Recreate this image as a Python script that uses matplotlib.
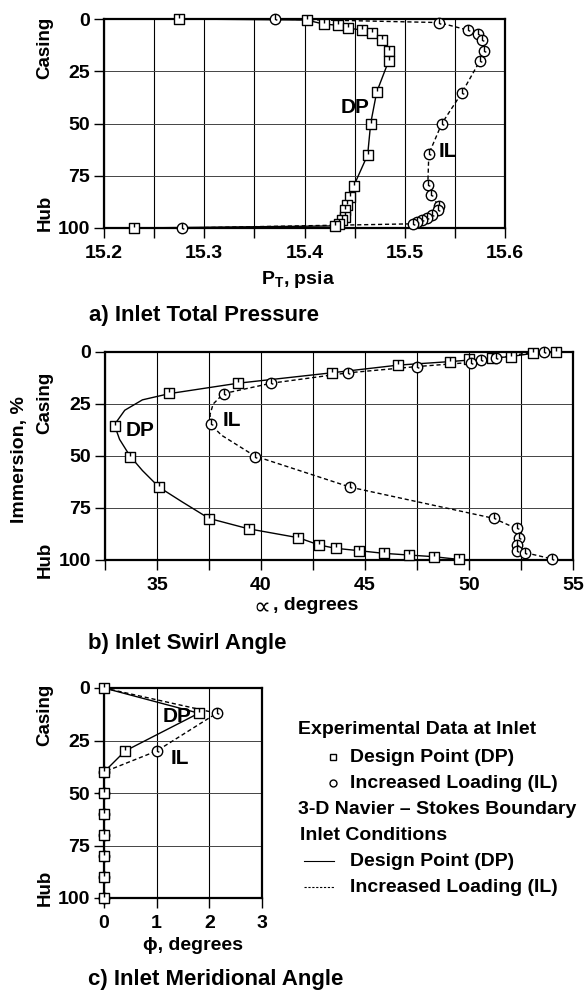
import numpy as np
import matplotlib
matplotlib.use("Agg")
import matplotlib.pyplot as plt
from matplotlib.path import Path
from matplotlib.lines import Line2D
from matplotlib.ticker import MultipleLocator, FormatStrFormatter

plt.rcParams['font.family'] = ['Liberation Sans', 'DejaVu Sans']
plt.rcParams['font.weight'] = 'bold'

# a) inlet total pressure, psia vs immersion %
a_dp_y = [0, 0.5, 2.4, 3, 4.3, 5.3, 6.9, 10, 15.5, 20, 35, 50, 65, 80, 85, 89, 91.5, 94.5, 96, 98, 99, 100]
a_dp_p = [15.275, 15.402, 15.419, 15.433, 15.443, 15.457, 15.467, 15.477, 15.484, 15.484, 15.472,
          15.466, 15.463, 15.449, 15.445, 15.442, 15.440, 15.440, 15.437, 15.434, 15.430, 15.230]
a_il_y = [0, 1.7, 5.3, 7.4, 10, 15.2, 20, 35.3, 50, 64.6, 79.4, 84.2, 89.5, 91.4, 93.8, 95.3, 96, 97.3, 98, 100]
a_il_p = [15.371, 15.534, 15.563, 15.573, 15.577, 15.579, 15.575, 15.557, 15.537, 15.524, 15.523,
          15.526, 15.534, 15.533, 15.527, 15.522, 15.517, 15.512, 15.508, 15.278]

# b) inlet swirl angle, degrees - experimental points
b_dp_y = [0, 0.6, 2.2, 3.0, 3.5, 4.6, 6.25, 9.9, 15, 19.9, 35.4, 50.3, 65, 80.3, 85, 89.3, 92.8,
          94.4, 95.5, 96.8, 97.6, 98.4, 99.7]
b_dp_a = [54.2, 53.1, 52.0, 51.1, 50.0, 49.1, 46.6, 43.4, 38.9, 35.6, 33.0, 33.7, 35.1, 37.5, 39.4,
          41.8, 42.8, 43.6, 44.7, 45.9, 47.1, 48.3, 49.5]
b_il_y = [0, 3.0, 3.8, 5.1, 7.0, 9.9, 15, 20.2, 34.8, 50.3, 65, 80, 84.8, 89.6, 92.8, 95.5, 96.8, 99.5]
b_il_a = [53.6, 51.3, 50.6, 50.1, 47.5, 44.2, 40.5, 38.2, 37.6, 39.7, 44.3, 51.2, 52.3, 52.4, 52.3,
          52.3, 52.7, 54.0]

# b) Navier-Stokes inlet boundary curves
b_dp_line_y = [0, 0.6, 2.2, 3, 4.6, 6.3, 10, 15, 20, 23, 28, 35, 42, 50, 57, 65, 72, 80, 85, 89.3,
               92.8, 94.4, 95.5, 96.8, 97.6, 98.4, 99.7]
b_dp_line_a = [54.2, 53.1, 52.0, 51.1, 49.1, 46.6, 43.4, 38.9, 35.6, 34.3, 33.45, 32.95, 33.2, 33.7,
               34.3, 35.1, 36.2, 37.5, 39.4, 41.8, 42.8, 43.6, 44.7, 45.9, 47.1, 48.3, 49.5]
b_il_line_y = [0, 1, 3, 5, 7, 10, 15, 20, 25, 30, 35, 40, 50, 65, 80, 85, 90, 93, 96, 99.5]
b_il_line_a = [53.6, 52.5, 51.3, 50.1, 47.5, 44.2, 40.5, 38.2, 37.7, 37.55, 37.6, 38.1, 39.7, 44.3,
               51.2, 52.3, 52.4, 52.3, 52.5, 54.0]

# c) inlet meridional angle, degrees
c_y = [0, 12, 30, 40, 50, 60, 70, 80, 90, 100]
c_dp_phi = [0, 1.8, 0.4, 0, 0, 0, 0, 0, 0, 0]
c_il_phi = [0, 2.14, 1.0, 0, 0, 0, 0, 0, 0, 0]

W, H = 586, 991


def box(l, t, r, b):
    return [l / W, 1 - b / H, (r - l) / W, (b - t) / H]


def fx(x):
    return x / W


def fy(y):
    return 1 - y / H


# open markers with the little stem seen in the scan
sq_marker = Path([(-1, -1), (1, -1), (1, 1), (-1, 1), (-1, -1), (0, 1), (0, 0.1)],
                 [Path.MOVETO, Path.LINETO, Path.LINETO, Path.LINETO, Path.CLOSEPOLY,
                  Path.MOVETO, Path.LINETO])
circ = Path.unit_circle()
ci_marker = Path.make_compound_path(circ, Path([(0, 1), (0, 0), (0.35, -0.15)]))

sq_kw = dict(marker=sq_marker, markersize=7.5, mfc='white', mec='black', mew=1.0)
ci_kw = dict(marker=ci_marker, markersize=7.5, mfc='white', mec='black', mew=1.0)

fig = plt.figure(figsize=(5.86, 9.91), dpi=100)


def style(ax, xlim, major, minor):
    ax.set_ylim(100, 0)
    ax.set_xlim(*xlim)
    ax.set_yticks([0, 25, 50, 75, 100])
    ax.xaxis.set_major_locator(MultipleLocator(major))
    if minor:
        ax.xaxis.set_minor_locator(MultipleLocator(minor))
    ax.tick_params(axis='both', which='both', direction='out', length=7, width=1,
                   labelsize=14, pad=3)
    ax.tick_params(axis='x', which='both', pad=5)
    ax.grid(True, axis='x', which='both', color='black', lw=0.8)
    ax.grid(True, axis='y', which='major', color='#444444', lw=0.7)
    for s in ax.spines.values():
        s.set_linewidth(1.6)
    for lab in ax.get_xticklabels() + ax.get_yticklabels():
        lab.set_fontweight('bold')


def side_labels(top_px, bot_px):
    fig.text(fx(45), fy(top_px), 'Casing', rotation=90, ha='center', va='center', fontsize=13.5)
    fig.text(fx(45), fy(bot_px), 'Hub', rotation=90, ha='center', va='center', fontsize=13.5)


# ---- a) Inlet Total Pressure
ax1 = fig.add_axes(box(104, 19, 505, 228))
style(ax1, (15.2, 15.6), 0.1, 0.05)
ax1.xaxis.set_major_formatter(FormatStrFormatter('%.1f'))
ax1.plot(a_dp_p, a_dp_y, color='black', lw=1.0, zorder=3)
ax1.plot(a_il_p, a_il_y, color='black', lw=1.0, ls=(0, (3, 2)), zorder=3)
ax1.plot(a_dp_p, a_dp_y, ls='none', zorder=4, clip_on=False, **sq_kw)
ax1.plot(a_il_p, a_il_y, ls='none', zorder=4, clip_on=False, **ci_kw)
ax1.text(15.45, 42.5, 'DP', ha='center', va='center', fontsize=15, fontweight='bold')
ax1.text(15.543, 63.5, 'IL', ha='center', va='center', fontsize=15, fontweight='bold')
side_labels(48, 213)
fig.text(fx(298), fy(280), 'P$_\\mathregular{T}$, psia', ha='center', va='center', fontsize=14)
fig.text(fx(89), fy(315), 'a) Inlet Total Pressure', ha='left', va='center', fontsize=16)

# ---- b) Inlet Swirl Angle
ax2 = fig.add_axes(box(105, 352, 573, 560))
style(ax2, (32.5, 55), 5, 2.5)
ax2.plot(b_dp_line_a, b_dp_line_y, color='black', lw=1.0, zorder=3)
ax2.plot(b_il_line_a, b_il_line_y, color='black', lw=1.0, ls=(0, (3, 2)), zorder=3)
ax2.plot(b_dp_a, b_dp_y, ls='none', zorder=4, clip_on=False, **sq_kw)
ax2.plot(b_il_a, b_il_y, ls='none', zorder=4, clip_on=False, **ci_kw)
ax2.text(34.18, 37.5, 'DP', ha='center', va='center', fontsize=15, fontweight='bold')
ax2.text(38.59, 32.7, 'IL', ha='center', va='center', fontsize=15, fontweight='bold')
side_labels(403, 560)
fig.text(fx(20), fy(460), 'Immersion, %', rotation=90, ha='center', va='center', fontsize=14)
fig.text(fx(262), fy(607), '\u221d', ha='center', va='center', fontsize=17,
         family=['DejaVu Sans'], fontweight='normal')
fig.text(fx(273), fy(605), ', degrees', ha='left', va='center', fontsize=14)
fig.text(fx(88), fy(643), 'b) Inlet Swirl Angle', ha='left', va='center', fontsize=16)

# ---- c) Inlet Meridional Angle
ax3 = fig.add_axes(box(104, 688, 262, 898))
style(ax3, (0, 3), 1, None)
ax3.plot(c_dp_phi, c_y, color='black', lw=1.0, zorder=3)
ax3.plot(c_il_phi, c_y, color='black', lw=1.0, ls=(0, (3, 2)), zorder=3)
ax3.plot(c_il_phi, c_y, ls='none', zorder=4, clip_on=False, markevery=slice(1, None), **ci_kw)
ax3.plot(c_dp_phi, c_y, ls='none', zorder=5, clip_on=False, **sq_kw)
ax3.text(1.38, 13.8, 'DP', ha='center', va='center', fontsize=15, fontweight='bold')
ax3.text(1.44, 33.6, 'IL', ha='center', va='center', fontsize=15, fontweight='bold')
side_labels(715, 888)
fig.text(fx(193), fy(946), '\u03d5, degrees', ha='center', va='center', fontsize=14)
fig.text(fx(88), fy(979), 'c) Inlet Meridional Angle', ha='left', va='center', fontsize=16)

# ---- legend block
fs = 14
fig.text(fx(298), fy(730), 'Experimental Data at Inlet', ha='left', va='center', fontsize=fs)
fig.add_artist(Line2D([fx(333)], [fy(757)], ls='none', marker='s', markersize=5,
                      mfc='white', mec='black', mew=1.0))
fig.text(fx(350), fy(757), 'Design Point (DP)', ha='left', va='center', fontsize=fs)
fig.add_artist(Line2D([fx(333)], [fy(783)], ls='none', marker='o', markersize=5,
                      mfc='white', mec='black', mew=1.0))
fig.text(fx(350), fy(783), 'Increased Loading (IL)', ha='left', va='center', fontsize=fs)
fig.text(fx(298), fy(810), '3-D Navier \u2013 Stokes Boundary', ha='left', va='center', fontsize=fs)
fig.text(fx(300), fy(835), 'Inlet Conditions', ha='left', va='center', fontsize=fs)
fig.add_artist(Line2D([fx(304), fx(334)], [fy(861), fy(861)], color='black', lw=0.8))
fig.text(fx(350), fy(861), 'Design Point (DP)', ha='left', va='center', fontsize=fs)
fig.add_artist(Line2D([fx(304), fx(334)], [fy(887), fy(887)], color='black', lw=0.8,
                      ls=(0, (2, 1.5))))
fig.text(fx(350), fy(887), 'Increased Loading (IL)', ha='left', va='center', fontsize=fs)

fig.savefig('out.png', dpi=100)
